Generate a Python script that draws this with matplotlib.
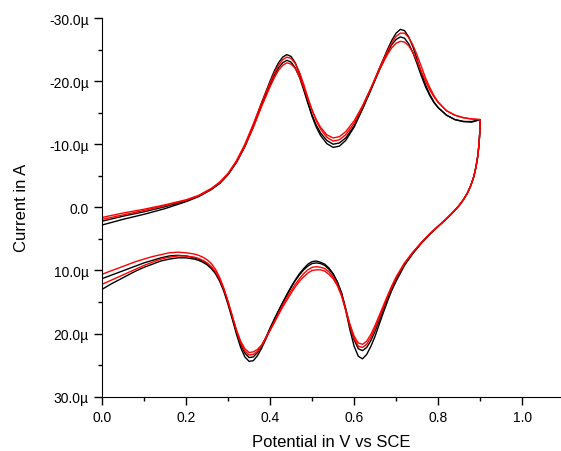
import numpy as np
import matplotlib.pyplot as plt
from matplotlib.ticker import MultipleLocator, FuncFormatter

# potential (V vs SCE): forward scan 0 -> 0.9 V, then reverse scan 0.9 -> 0 V
v_up = [0.00, 0.05, 0.10, 0.15, 0.20, 0.23, 0.26, 0.28, 0.30, 0.32, 0.34, 0.36, 0.38, 0.40,
        0.41, 0.42, 0.43, 0.44, 0.45, 0.46, 0.47, 0.48, 0.49, 0.50, 0.51, 0.52,
        0.535, 0.55, 0.565, 0.58, 0.60, 0.62, 0.64, 0.66, 0.68,
        0.69, 0.70, 0.71, 0.72, 0.73, 0.74, 0.75, 0.76, 0.77, 0.78, 0.79, 0.80,
        0.82, 0.84, 0.86, 0.88, 0.90]
v_dn = [0.900, 0.899, 0.897, 0.894, 0.890, 0.885, 0.878, 0.870, 0.860, 0.850,
        0.835, 0.820, 0.800, 0.780, 0.760, 0.740, 0.720,
        0.70, 0.69, 0.68, 0.67, 0.66, 0.65, 0.64, 0.63, 0.62, 0.61,
        0.60, 0.59, 0.58, 0.57, 0.56, 0.55, 0.54, 0.53, 0.52, 0.51,
        0.50, 0.49, 0.48, 0.47, 0.46, 0.45, 0.44, 0.43, 0.42, 0.41,
        0.40, 0.39, 0.38, 0.37, 0.36, 0.35, 0.34, 0.33, 0.32, 0.31,
        0.30, 0.29, 0.28, 0.27, 0.26, 0.25, 0.24, 0.23, 0.22,
        0.20, 0.18, 0.16, 0.14, 0.12, 0.10, 0.08, 0.06, 0.04, 0.02, 0.00]

# currents in microamps
black1_up = [2.8, 1.9, 1.1, 0.2, -0.9, -1.7, -2.8, -3.8, -5.2, -7.2, -9.8, -13.0, -16.6, -20.0,
             -21.6, -22.9, -23.8, -24.2, -23.9, -22.9, -21.2, -19.0, -16.6, -14.4, -12.7, -11.4,
             -10.1, -9.5, -9.7, -10.6, -12.7, -15.6, -18.7, -22.0, -25.1,
             -26.5, -27.6, -28.2, -28.0, -27.0, -25.4, -23.4, -21.3, -19.4, -17.9, -16.7, -15.8,
             -14.6, -13.9, -13.6, -13.5, -13.9]
black1_dn = [-13.9, -11.8, -9.8, -8.0, -6.4, -4.9, -3.5, -2.3, -1.2, -0.3,
             0.8, 1.8, 3.0, 4.3, 5.7, 7.3, 9.2,
             11.7, 13.1, 14.8, 16.6, 18.5, 20.4, 22.0, 23.3, 24.0, 23.6,
             22.0, 19.4, 16.3, 13.6, 11.8, 10.5, 9.6, 9.0, 8.7, 8.5,
             8.6, 9.0, 9.7, 10.5, 11.5, 12.6, 13.8, 15.1, 16.4, 17.8,
             19.3, 20.9, 22.3, 23.5, 24.3, 24.4, 23.7, 22.2, 20.1, 17.7,
             15.4, 13.3, 11.7, 10.5, 9.7, 9.1, 8.7, 8.4, 8.2,
             8.0, 8.0, 8.2, 8.5, 9.0, 9.5, 10.1, 10.8, 11.5, 12.2, 13.0]

black2_up = [2.2, 1.4, 0.7, -0.1, -1.0, -1.8, -2.9, -3.8, -5.2, -7.1, -9.6, -12.7, -16.2, -19.4,
             -20.9, -22.1, -22.9, -23.3, -23.0, -22.1, -20.6, -18.6, -16.5, -14.6, -13.0, -11.8,
             -10.6, -10.0, -10.2, -11.0, -12.9, -15.6, -18.6, -21.7, -24.6,
             -25.8, -26.6, -27.0, -26.8, -25.9, -24.5, -22.7, -20.8, -19.1, -17.7, -16.6, -15.8,
             -14.6, -13.9, -13.6, -13.6, -13.9]
black2_dn = [-13.9, -11.8, -9.8, -8.0, -6.4, -4.9, -3.5, -2.3, -1.2, -0.3,
             0.8, 1.8, 3.0, 4.2, 5.6, 7.2, 9.0,
             11.4, 12.8, 14.4, 16.1, 17.9, 19.6, 21.1, 22.2, 22.7, 22.4,
             21.0, 18.8, 16.0, 13.5, 11.8, 10.6, 9.8, 9.2, 8.9, 8.8,
             8.9, 9.3, 9.9, 10.7, 11.6, 12.7, 13.9, 15.1, 16.4, 17.7,
             19.1, 20.6, 21.9, 23.0, 23.7, 23.8, 23.1, 21.7, 19.7, 17.4,
             15.1, 13.1, 11.5, 10.3, 9.5, 8.9, 8.5, 8.2, 8.0,
             7.7, 7.6, 7.7, 8.0, 8.4, 8.8, 9.3, 9.8, 10.3, 10.8, 11.3]

red1_up = [1.6, 0.9, 0.3, -0.4, -1.2, -1.9, -3.0, -4.0, -5.4, -7.4, -10.0, -13.2, -16.6, -19.8,
           -21.3, -22.5, -23.4, -23.8, -23.6, -22.8, -21.4, -19.5, -17.4, -15.4, -13.7, -12.4,
           -11.1, -10.5, -10.7, -11.5, -13.3, -15.9, -18.9, -22.0, -24.9,
           -26.1, -27.1, -27.6, -27.6, -26.9, -25.7, -24.1, -22.3, -20.5, -19.0, -17.7, -16.7,
           -15.3, -14.6, -14.2, -14.0, -13.9]
red1_dn = [-13.9, -11.8, -9.8, -8.0, -6.4, -4.9, -3.5, -2.3, -1.2, -0.3,
           0.8, 1.8, 3.0, 4.2, 5.6, 7.1, 8.9,
           11.2, 12.6, 14.1, 15.8, 17.5, 19.1, 20.6, 21.7, 22.2, 22.0,
           20.8, 18.8, 16.3, 13.9, 12.2, 11.0, 10.2, 9.7, 9.5, 9.4,
           9.5, 9.9, 10.5, 11.3, 12.2, 13.2, 14.3, 15.5, 16.8, 18.1,
           19.4, 20.7, 21.9, 22.8, 23.3, 23.4, 22.8, 21.5, 19.6, 17.2,
           14.9, 12.8, 11.1, 9.8, 8.9, 8.3, 7.9, 7.6, 7.4,
           7.2, 7.1, 7.2, 7.5, 7.8, 8.2, 8.6, 9.1, 9.6, 10.1, 10.6]

red2_up = [1.9, 1.2, 0.5, -0.3, -1.1, -1.8, -2.9, -3.9, -5.3, -7.2, -9.7, -12.7, -16.0, -19.1,
           -20.5, -21.7, -22.5, -22.9, -22.7, -22.0, -20.7, -19.0, -17.1, -15.4, -13.9, -12.7,
           -11.5, -11.0, -11.2, -12.0, -13.7, -16.1, -18.9, -21.8, -24.3,
           -25.3, -26.0, -26.3, -26.2, -25.6, -24.5, -23.1, -21.5, -20.0, -18.6, -17.5, -16.6,
           -15.3, -14.6, -14.2, -14.0, -13.9]
red2_dn = [-13.9, -11.8, -9.8, -8.0, -6.4, -4.9, -3.5, -2.3, -1.2, -0.3,
           0.8, 1.8, 3.0, 4.2, 5.6, 7.1, 8.8,
           11.0, 12.4, 13.9, 15.5, 17.1, 18.7, 20.1, 21.2, 21.7, 21.5,
           20.4, 18.5, 16.2, 14.0, 12.4, 11.3, 10.6, 10.1, 9.9, 9.9,
           10.0, 10.4, 11.0, 11.7, 12.6, 13.6, 14.7, 15.8, 17.0, 18.3,
           19.5, 20.7, 21.8, 22.5, 22.9, 23.0, 22.4, 21.2, 19.4, 17.2,
           15.0, 13.0, 11.4, 10.2, 9.4, 8.8, 8.4, 8.1, 7.9,
           7.7, 7.7, 7.9, 8.2, 8.7, 9.2, 9.8, 10.4, 11.0, 11.6, 12.2]

curves = [
    (black1_up, black1_dn, 'black'),
    (black2_up, black2_dn, 'black'),
    (red1_up, red1_dn, 'red'),
    (red2_up, red2_dn, 'red'),
]

plt.rcParams['font.family'] = ['Liberation Sans', 'DejaVu Sans']

fig = plt.figure(figsize=(5.61, 4.52), dpi=100)
ax = fig.add_axes([102 / 561, 1 - 397.7 / 452, 458 / 561, (397.7 - 19) / 452])

for up, dn, col in curves:
    assert len(up) == len(v_up) and len(dn) == len(v_dn)
    ax.plot(v_up + v_dn, up + dn, color=col, lw=1.0)

ax.set_xlim(0, 1.09)
ax.set_ylim(30, -30)

ax.spines['top'].set_visible(False)
ax.spines['right'].set_visible(False)

ax.xaxis.set_major_locator(MultipleLocator(0.2))
ax.xaxis.set_minor_locator(MultipleLocator(0.1))
ax.yaxis.set_major_locator(MultipleLocator(10))
ax.yaxis.set_minor_locator(MultipleLocator(5))
ax.xaxis.set_major_formatter(FuncFormatter(lambda x, p: f"{x:.1f}"))
ax.yaxis.set_major_formatter(FuncFormatter(lambda y, p: "0.0" if abs(y) < 1e-9 else f"{y:.1f}\u00b5"))

ax.tick_params(which='major', direction='out', length=6, width=1, labelsize=10, pad=3.5)
ax.tick_params(which='minor', direction='out', length=3, width=1)

ax.set_xlabel('Potential in V vs SCE', fontsize=12, labelpad=7)
ax.set_ylabel('Current in A', fontsize=12, labelpad=14)

fig.savefig('out.png', dpi=100)
